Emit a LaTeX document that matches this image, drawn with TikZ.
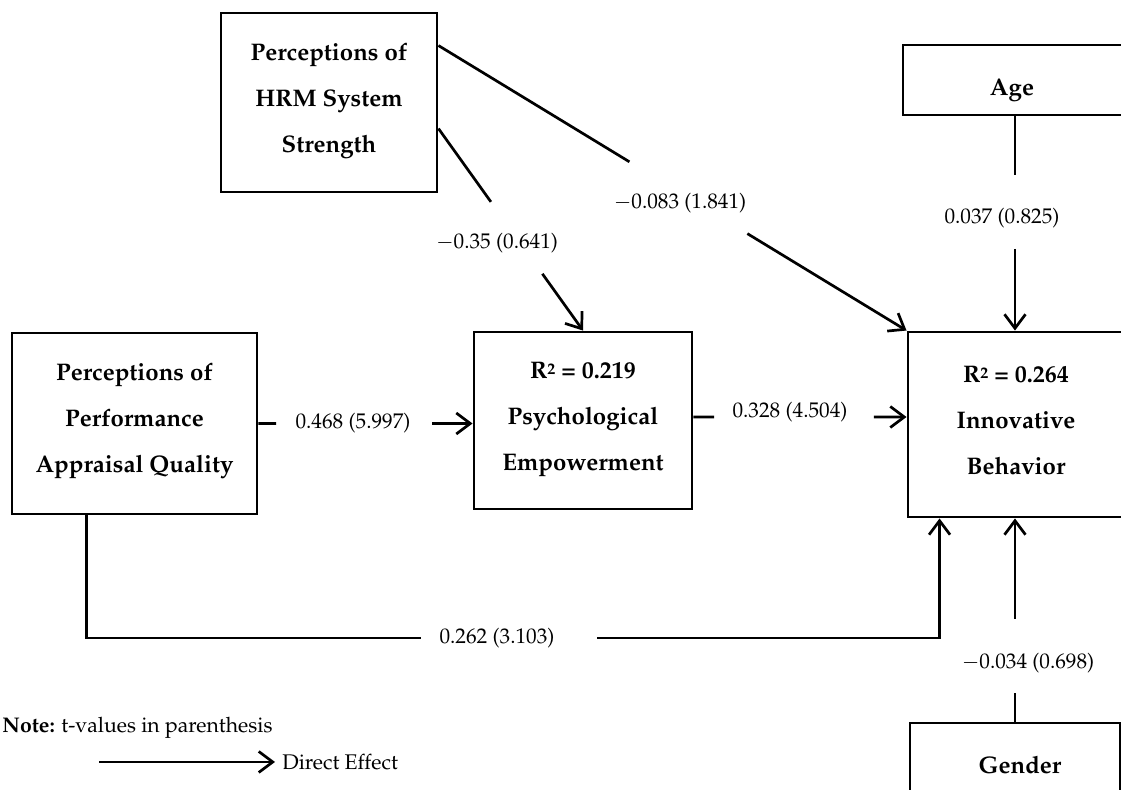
\documentclass[tikz,border=0pt]{standalone}
\usepackage[T1]{fontenc}
\usepackage{mathpazo}
\usetikzlibrary{arrows.meta,calc}
\newcommand{\rsq}{R\raisebox{0.42ex}{\fontsize{8}{8}\selectfont 2}}
\tikzset{
  bx/.style={draw, line width=1.45pt, inner sep=0pt},
  btxt/.style={align=center, inner sep=0pt, font=\fontsize{12}{23}\selectfont\bfseries},
  lab/.style={inner sep=0pt, font=\fontsize{10.6}{12}\selectfont},
  ln/.style={line width=1.35pt},
  arr/.style={line width=1.35pt, -{Straight Barb[length=7pt,width=10.5pt,line width=1.35pt]}}
}
\begin{document}
\begin{tikzpicture}[x=0.5pt,y=-0.5pt]
\useasboundingbox (0,0) rectangle (1121,790);
\clip (0,0) rectangle (1121,790);
% boxes
\node[bx, minimum width=108pt, minimum height=89.5pt] (hrm) at (329,102.5) {};
\node[bx, minimum width=112pt, minimum height=35pt] (age) at (1015,80) {};
\node[bx, minimum width=122.5pt, minimum height=90.5pt] (paq) at (134.5,423.5) {};
\node[bx, minimum width=109pt, minimum height=88.5pt] (psy) at (583,420.5) {};
\node[bx, minimum width=107pt, minimum height=92.5pt] (inn) at (1015,424.5) {};
\node[bx, minimum width=105pt, minimum height=53.5pt] (gen) at (1015,776.5) {};
% box texts
\node[btxt] (thrm) at (329,101) {Perceptions of\\HRM System\\Strength};
\node[btxt] (tage) at (1012,90) {Age};
\node[btxt] (tpaq) at (134.5,421) {Perceptions of\\Performance\\Appraisal Quality};
\node[btxt] (tpsy) at (583,420) {\rsq{} = 0.219\\Psychological\\Empowerment};
\node[btxt] (tinn) at (1016,421) {\rsq{} = 0.264\\Innovative\\Behavior};
\node[btxt] (tgen) at (1020,765) {Gender};
% HRM -> Innovative
\coordinate (h1) at ($(hrm.north east)+(0,34)$);
\draw[ln] (h1) -- ($(h1)!0.408!(inn.north west)$);
\draw[arr] ($(h1)!0.660!(inn.north west)$) -- (inn.north west);
\node[lab] (l1) at (680,203) {$-$0.083 (1.841)};
% HRM -> Psych
\coordinate (h2) at ($(hrm.north east)+(0,117)$);
\draw[ln] (h2) -- ($(h2)!0.363!(psy.north)$);
\draw[arr] ($(h2)!0.719!(psy.north)$) -- (psy.north);
\node[lab] (l2) at (497,243) {$-$0.35 (0.641)};
% Age -> Innovative
\draw[ln] (age.south) -- (1015,175);
\draw[arr] (1015,249) -- (inn.north);
\node[lab] (l3) at (1002,218) {0.037 (0.825)};
% Gender -> Innovative
\draw[ln] (gen.north) -- (1015,693);
\draw[arr] (1015,619) -- (inn.south);
\node[lab] (l4) at (1028,663) {$-$0.034 (0.698)};
% PAQ -> Psych
\draw[ln] (paq.east) -- ($(paq.east)!0.083!(psy.west |- paq.east)$);
\draw[arr] ($(paq.east)!0.811!(psy.west |- paq.east)$) -- (psy.west |- paq.east);
\node[lab] (l5) at (353,423) {0.468 (5.997)};
% Psych -> Innovative
\coordinate (p1) at ($(psy.east)+(0,-3.5)$);
\draw[ln] (p1) -- ($(p1)!0.097!(inn.west |- p1)$);
\draw[arr] ($(p1)!0.847!(inn.west |- p1)$) -- (inn.west |- p1);
\node[lab] (l6) at (790,412) {0.328 (4.504)};
% PAQ -> Innovative (bottom)
\coordinate (q0) at ($(paq.south west)+(76,0)$);
\coordinate (c1) at (q0 |- 0,638);
\coordinate (g1) at (421,638);
\coordinate (g2) at (597,638);
\coordinate (q1) at ($(inn.south west)+(33,0)$);
\coordinate (c2) at (q1 |- 0,638);
\draw[ln] (q0) -- (c1) -- (g1);
\draw[arr] (g2) -- (c2) -- (q1);
\node[lab] (l7) at (497,638) {0.262 (3.103)};
% legend
\node[lab, anchor=west] (note) at (2,728) {\textbf{Note:} t-values in parenthesis};
\coordinate (la) at (99,762);
\coordinate (lb) at (275,762);
\draw[arr] (la) -- (lb);
\node[lab, anchor=west] (de) at (282,762) {Direct Effect};
\end{tikzpicture}
\end{document}
